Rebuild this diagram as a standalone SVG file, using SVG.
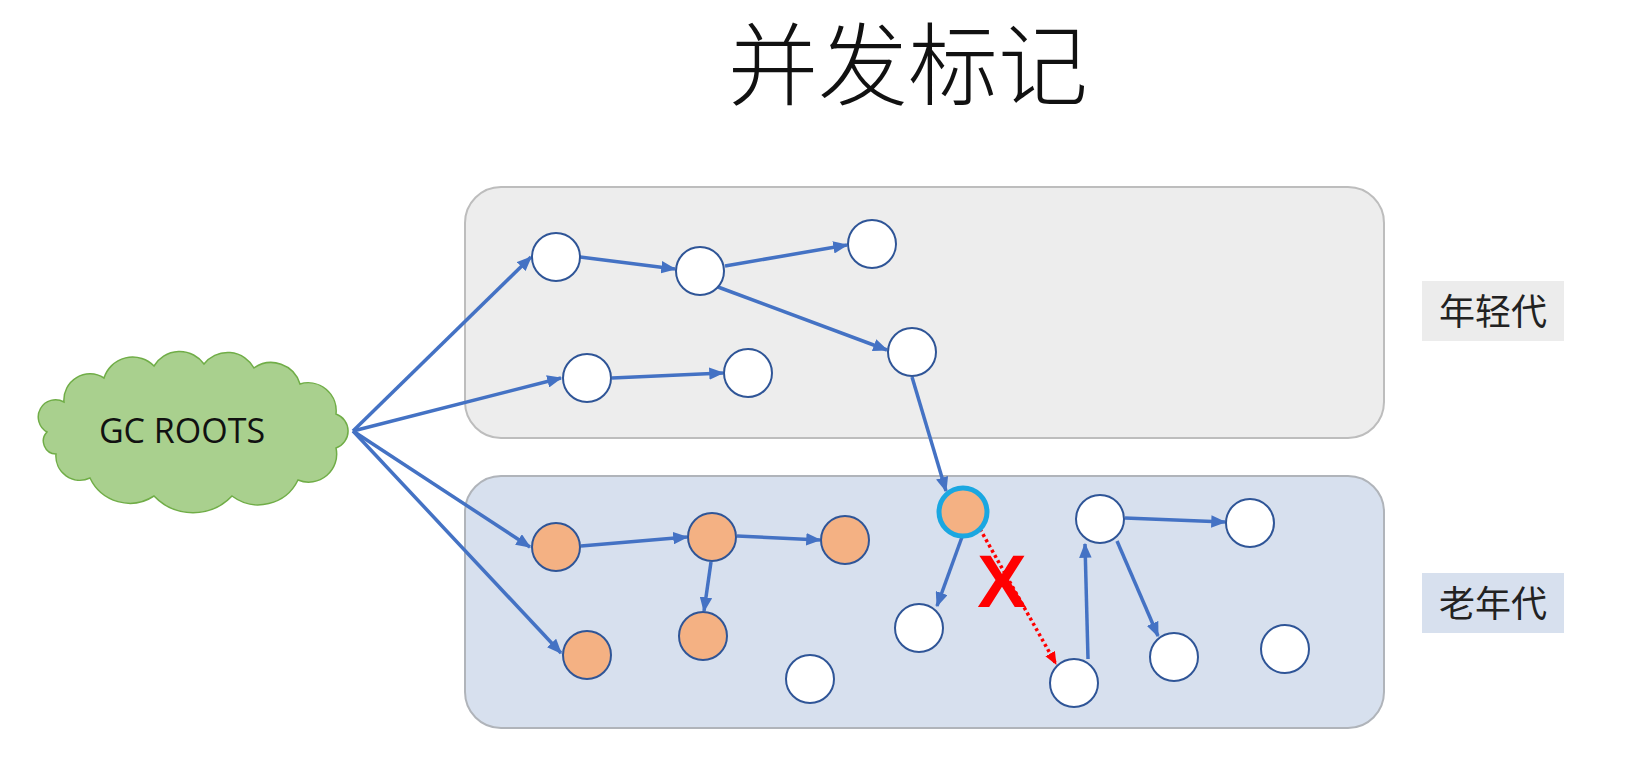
<svg xmlns="http://www.w3.org/2000/svg" width="1626" height="762" viewBox="0 0 1626 762">
<style>
.title{font-family:"Noto Sans CJK SC","Noto Sans",sans-serif;font-weight:300;font-size:90px;fill:#111;}
.lbl{font-family:"Noto Sans CJK SC","Noto Sans",sans-serif;font-size:36px;fill:#222;}
.gc{font-family:"Open Sans","Liberation Sans",sans-serif;font-size:34px;fill:#111;}
.w{fill:#ffffff;stroke:#2f5597;stroke-width:2;}
.o{fill:#f4b183;stroke:#2f5597;stroke-width:2;}
.e{stroke:#4472c4;stroke-width:3.5;fill:none;marker-end:url(#ab);}
.r{stroke:#ff0000;stroke-width:3.5;fill:none;stroke-dasharray:3 3;marker-end:url(#ar);}
</style>
<defs>
<marker id="ab" markerUnits="userSpaceOnUse" viewBox="0 0 12 10" markerWidth="15" markerHeight="12.5" refX="11" refY="5" orient="auto"><path d="M0,0 L12,5 L0,10 z" fill="#4472c4"/></marker>
<marker id="ar" markerUnits="userSpaceOnUse" viewBox="0 0 12 10" markerWidth="13" markerHeight="11" refX="11" refY="5" orient="auto"><path d="M0,0 L12,5 L0,10 z" fill="#ff0000"/></marker>
</defs>
<rect width="1626" height="762" fill="#ffffff"/>
<text class="title" x="908" y="98" text-anchor="middle">并发标记</text>

<g id="young-gen"><rect x="465" y="187" width="919" height="251" rx="36" fill="#ededed" stroke="#bdbdbd" stroke-width="2"/></g>
<g id="old-gen"><rect x="465" y="476" width="919" height="252" rx="36" fill="#d7e0ee" stroke="#b0b4ba" stroke-width="2"/></g>
<g id="label-young"><rect x="1422" y="281" width="142" height="60" fill="#ececec"/><text class="lbl" x="1493" y="325" text-anchor="middle">年轻代</text></g>
<g id="label-old"><rect x="1422" y="573" width="142" height="60" fill="#d7e0ee"/><text class="lbl" x="1493" y="617" text-anchor="middle">老年代</text></g>

<g id="gc-roots">
<path d="M47,432 A14,14 0 0 1 64,402 A26,26 0 0 1 104,378 A30,30 0 0 1 154,366 A30,30 0 0 1 204,364 A30,30 0 0 1 254,368 A30,30 0 0 1 300,384 A28,28 0 0 1 336,414 A18,18 0 0 1 336,448 A28,28 0 0 1 298,480 A44,44 0 0 1 232,496 A54,54 0 0 1 154,496 A44,44 0 0 1 90,478 A24,24 0 0 1 56,454 A13,13 0 0 1 47,432 Z" fill="#a9d08e" stroke="#70ad47" stroke-width="1.5"/>
<text class="gc" x="182" y="443" text-anchor="middle">GC ROOTS</text>
</g>

<g id="connectors">
<path class="e" d="M353,431 L531,257"/>
<path class="e" d="M353,431 L561,378"/>
<path class="e" d="M353,431 L530,547"/>
<path class="e" d="M353,431 L561,653"/>
<path class="e" d="M580,257 L675,269"/>
<path class="e" d="M725,266 L847,245"/>
<path class="e" d="M718,287 L887,350"/>
<path class="e" d="M612,378 L723,373"/>
<path class="e" d="M912,377 L946,491"/>
<path class="e" d="M581,546 L687,537"/>
<path class="e" d="M737,536 L820,540"/>
<path class="e" d="M711,562 L704,611"/>
<path class="e" d="M962,537 L937,606"/>
<path class="r" d="M980,529 L1056,664"/>
<path class="e" d="M1088,659 L1085,544"/>
<path class="e" d="M1125,518 L1225,522"/>
<path class="e" d="M1117,541 L1158,636"/>
</g>

<g id="n-a"><circle class="w" cx="556" cy="257" r="24"/></g>
<g id="n-b"><circle class="w" cx="700" cy="271" r="24"/></g>
<g id="n-c"><circle class="w" cx="872" cy="244" r="24"/></g>
<g id="n-d"><circle class="w" cx="912" cy="352" r="24"/></g>
<g id="n-e"><circle class="w" cx="587" cy="378" r="24"/></g>
<g id="n-f"><circle class="w" cx="748" cy="373" r="24"/></g>

<g id="n-g"><circle class="o" cx="556" cy="547" r="24"/></g>
<g id="n-h"><circle class="o" cx="712" cy="537" r="24"/></g>
<g id="n-i"><circle class="o" cx="845" cy="540" r="24"/></g>
<g id="n-j"><circle class="o" cx="703" cy="636" r="24"/></g>
<g id="n-k"><circle class="o" cx="587" cy="655" r="24"/></g>
<g id="n-l"><circle class="w" cx="810" cy="679" r="24"/></g>
<g id="n-m"><circle cx="963" cy="512" r="24" fill="#f4b183" stroke="#1aa7e1" stroke-width="5"/></g>
<g id="n-n"><circle class="w" cx="919" cy="628" r="24"/></g>
<g id="n-o"><circle class="w" cx="1100" cy="519" r="24"/></g>
<g id="n-p"><circle class="w" cx="1250" cy="523" r="24"/></g>
<g id="n-q"><circle class="w" cx="1074" cy="683" r="24"/></g>
<g id="n-r"><circle class="w" cx="1174" cy="657" r="24"/></g>
<g id="n-s"><circle class="w" cx="1285" cy="649" r="24"/></g>

<g id="cut-mark"><text x="1002" y="607" text-anchor="middle" font-family="Liberation Sans, Arial, sans-serif" font-weight="bold" font-size="74" fill="#ff0000">X</text></g>
</svg>
